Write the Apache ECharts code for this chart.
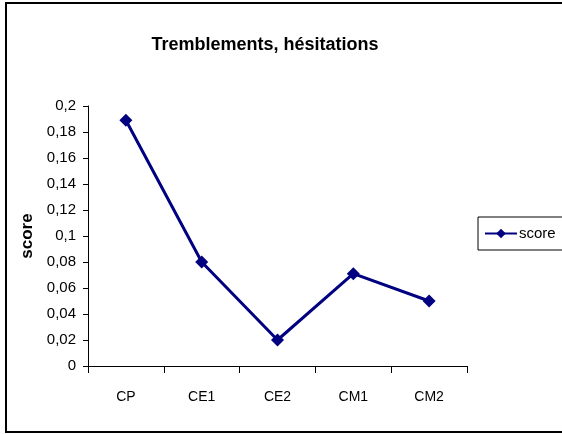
<!DOCTYPE html>
<html>
<head>
<meta charset="utf-8">
<script src="https://cdn.jsdelivr.net/npm/echarts@6/dist/echarts.min.js"></script>
<style>
  html, body { margin: 0; padding: 0; background: #fff; }
  #main { width: 562px; height: 434px; }
</style>
</head>
<body>
<div id="main"></div>
<script>
// données
var categories = ['CP', 'CE1', 'CE2', 'CM1', 'CM2']
var scores = [0.189, 0.08, 0.02, 0.071, 0.05]

var font = "'Liberation Sans', Arial, sans-serif"

var chart = echarts.init(document.getElementById('main'))

chart.setOption({
  animation: false,
  backgroundColor: '#fff',
  title: {
    text: 'Tremblements, hésitations',
    left: 260,
    textAlign: 'center',
    top: 31,
    textStyle: { fontFamily: font, fontSize: 18, fontWeight: 'bold', color: '#000' }
  },
  legend: {
    left: 478,
    top: 217,
    padding: [9, 40, 9, 6],
    borderColor: '#000',
    borderWidth: 1,
    itemWidth: 32,
    itemHeight: 12,
    itemGap: 4,
    textStyle: { fontFamily: font, fontSize: 15, color: '#000', padding: [0, 0, 0, -3] },
    data: ['score']
  },
  graphic: [
    { // cadre extérieur
      type: 'rect',
      shape: { x: 6, y: 3, width: 600, height: 429 },
      style: { fill: 'none', stroke: '#000', lineWidth: 2 },
      z: 100
    }
  ],
  grid: { left: 88, right: 95, top: 106, bottom: 68 },
  xAxis: {
    type: 'category',
    data: categories,
    boundaryGap: true,
    axisLine: { lineStyle: { color: '#000', width: 1 } },
    axisTick: { show: true, length: 7, lineStyle: { color: '#000' } },
    axisLabel: { fontFamily: font, fontSize: 14, color: '#000', margin: 24 }
  },
  yAxis: {
    type: 'value',
    min: 0,
    max: 0.2,
    interval: 0.02,
    name: 'score',
    nameLocation: 'middle',
    nameGap: 44,
    nameTextStyle: { fontFamily: font, fontSize: 17, fontWeight: 'bold', color: '#000' },
    axisLine: { show: true, lineStyle: { color: '#000', width: 1 } },
    axisTick: { show: true, length: 5, lineStyle: { color: '#000' } },
    splitLine: { show: false },
    axisLabel: {
      fontFamily: font,
      fontSize: 15,
      color: '#000',
      margin: 12,
      formatter: function (v) { return String(+v.toFixed(2)).replace('.', ',') }
    }
  },
  series: [
    {
      name: 'score',
      type: 'line',
      data: scores,
      symbol: 'diamond',
      symbolSize: 13,
      lineStyle: { color: '#000080', width: 3 },
      itemStyle: { color: '#000080' }
    }
  ]
})
</script>
</body>
</html>
